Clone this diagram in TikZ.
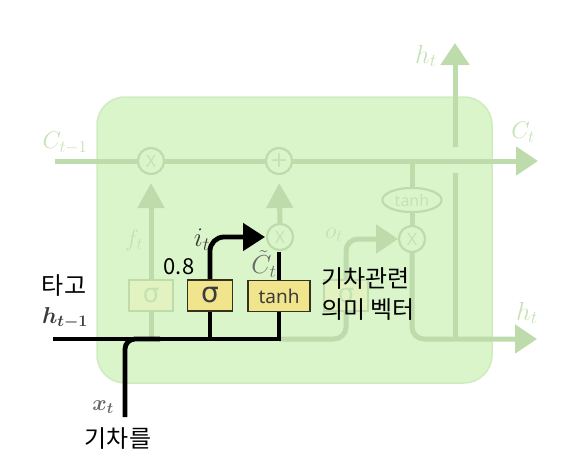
\documentclass[tikz,border=0pt]{standalone}
\usepackage{fix-cm}
\usepackage{fontspec}
\usepackage{bm}
\newfontfamily\krfont{Noto Sans CJK KR}
\newfontfamily\nsfont{Noto Sans}
\newfontfamily\djfont{DejaVu Sans}
\usetikzlibrary{arrows.meta,shapes.geometric}
\definecolor{cellfill}{RGB}{218,245,202}
\definecolor{cellline}{RGB}{206,236,192}
\definecolor{fade}{RGB}{190,219,172}
\definecolor{fadetext}{RGB}{196,226,180}
\definecolor{gatefill}{RGB}{240,228,140}
\definecolor{gateline}{RGB}{55,50,30}
\definecolor{fadegate}{RGB}{226,242,192}
\definecolor{darkgray}{RGB}{60,60,60}
\definecolor{midgray}{RGB}{105,105,105}
\begin{document}
\begin{tikzpicture}[x=1pt,y=-1pt,
  fadeln/.style={draw=fade,line width=5pt},
  fadetip/.style={-{Triangle[length=22pt,width=28pt]}},
  uptip/.style={-{Triangle[length=25pt,width=26pt]}},
  blk/.style={draw=black,line width=4.8pt},
  opcircle/.style={circle,draw=fade,line width=2pt,fill=cellfill,minimum size=26pt,inner sep=0pt,text=fadetext,font=\nsfont\fontsize{17}{17}\selectfont},
  tanhell/.style={ellipse,draw=fade,line width=2pt,fill=cellfill,minimum width=59pt,minimum height=24pt,inner sep=0pt,text=fadetext,font=\nsfont\fontsize{16}{16}\selectfont},
  gatebox/.style={rectangle,draw=gateline,line width=1.8pt,fill=gatefill,minimum height=31pt,inner sep=0pt,text=darkgray},
  fadebox/.style={rectangle,draw=fade,line width=1.8pt,fill=fadegate,minimum height=31pt,minimum width=44pt,inner sep=0pt,text=fadetext,font=\djfont\fontsize{26}{26}\selectfont},
  fadelabel/.style={text=fadetext,font=\fontsize{24}{26}\selectfont,inner sep=0pt},
  krlabel/.style={text=black,font=\krfont\fontsize{24}{31}\selectfont,inner sep=0pt}
]
\useasboundingbox (0,0) rectangle (573,474);
% cell
\node[draw=cellline,fill=cellfill,line width=1.5pt,rounded corners=28pt,minimum width=395pt,minimum height=286pt] (cell) at (294.5,240) {};
% coordinates
\coordinate (cin) at (55,161);
\coordinate (cout) at (538,161);
\coordinate (hin) at (53,339);
\coordinate (j1) at (279,339);
\coordinate (xin) at (125,417);
\coordinate (hout) at (537,339);
\coordinate (htop) at (455,43);
% faded operators and gates (placement)
\node[opcircle] (cx1) at (151,161) {X};
\node[opcircle,font=\djfont\fontsize{22}{22}\selectfont] (cplus) at (279,161) {+};
\node[opcircle] (cx2) at (280,237) {X};
\node[opcircle] (ox) at (412,239) {X};
\node[tanhell] (tanhE) at (412,200) {tanh};
\node[fadebox] (fg) at (151,295.5) {σ};
\node[fadebox] (og) at (346,295.5) {σ};
\node[gatebox,minimum width=45pt,font=\djfont\fontsize{28}{28}\selectfont] (ig) at (210,295.5) {σ};
\node[gatebox,minimum width=62pt,font=\nsfont\fontsize{19}{19}\selectfont] (tg) at (279,296) {tanh};
% faded connectors
\draw[fadeln,fadetip] (cin) -- (cout);
\draw[fadeln] (151,339) -- (fg.south);
\draw[fadeln,uptip,shorten >=8pt] (fg.north) -- (cx1.south);
\draw[fadeln,uptip,shorten >=8pt] (cx2.north) -- (cplus.south);
\draw[fadeln,rounded corners=12pt] (j1) -- (346,339) -- (og.south);
\draw[fadeln,rounded corners=12pt,fadetip] (og.north) -- (346,239) -- (ox.west);
\draw[fadeln] (ox |- cin) -- (tanhE.north);
\draw[fadeln] (tanhE.south) -- (ox.north);
\draw[fadeln,rounded corners=12pt,fadetip] (ox.south) -- (412,339) -- (hout);
\draw[fadeln] (455,339) -- (455,173);
\draw[fadeln,fadetip] (455,147) -- (htop);
% redraw operators on top
\node[opcircle] at (cx1) {X};
\node[opcircle,font=\djfont\fontsize{22}{22}\selectfont] at (cplus) {+};
\node[opcircle] at (cx2) {X};
\node[opcircle] at (ox) {X};
\node[tanhell] at (tanhE) {tanh};
\node[fadebox] at (fg) {σ};
\node[fadebox] at (og) {σ};
% black connectors
\draw[blk] (hin) -- (j1) -- (tg.south);
\draw[blk] (ig.south |- hin) -- (ig.south);
\draw[blk,rounded corners=10pt] (xin) -- (125,339) -- (160,339);
\draw[blk,rounded corners=14pt,-{Triangle[length=22pt,width=27pt]}] (ig.north) -- (210,237) -- (265,237);
\draw[blk] (tg.north) -- (279,252);
% gates on top
\node[gatebox,minimum width=45pt,font=\djfont\fontsize{28}{28}\selectfont] at (ig) {σ};
\node[gatebox,minimum width=62pt,font=\nsfont\fontsize{19}{19}\selectfont] at (tg) {tanh};
% faded labels
\node[fadelabel] (lcin) at (65,143) {$C_{t-1}$};
\node[fadelabel] (lcout) at (523,132) {$C_t$};
\node[fadelabel,font=\fontsize{26}{28}\selectfont] (lhtop) at (426,56) {$h_t$};
\node[fadelabel,font=\fontsize{26}{28}\selectfont] (lhout) at (527,313) {$h_t$};
\node[fadelabel] (lft) at (134,240) {$f_t$};
\node[fadelabel] (lot) at (334,235) {$o_t$};
% dark labels
\node[inner sep=0pt,text=darkgray,font=\fontsize{27}{29}\selectfont] (lit) at (202,240) {$i_t$};
\node[inner sep=0pt,text=midgray,font=\fontsize{26}{28}\selectfont] (lct) at (264,264) {$\tilde{C}_t$};
\node[inner sep=0pt,text=darkgray,font=\fontsize{23}{25}\selectfont] (lhin) at (65,318) {$\bm{h_{t-1}}$};
\node[inner sep=0pt,text=midgray,font=\fontsize{22}{24}\selectfont] (lxt) at (103,407) {$\bm{x_t}$};
\node[inner sep=0pt,text=black,font=\krfont\fontsize{22}{24}\selectfont] (l08) at (179,267) {0.8};
% Korean labels
\node[krlabel] (ktago) at (64,286) {타고};
\node[krlabel] (kgicha) at (118,439) {기차를};
\node[krlabel,anchor=west] (kvec1) at (321,279) {기차관련};
\node[krlabel,anchor=west] (kvec2) at (321,310) {의미 벡터};
\end{tikzpicture}
\end{document}
